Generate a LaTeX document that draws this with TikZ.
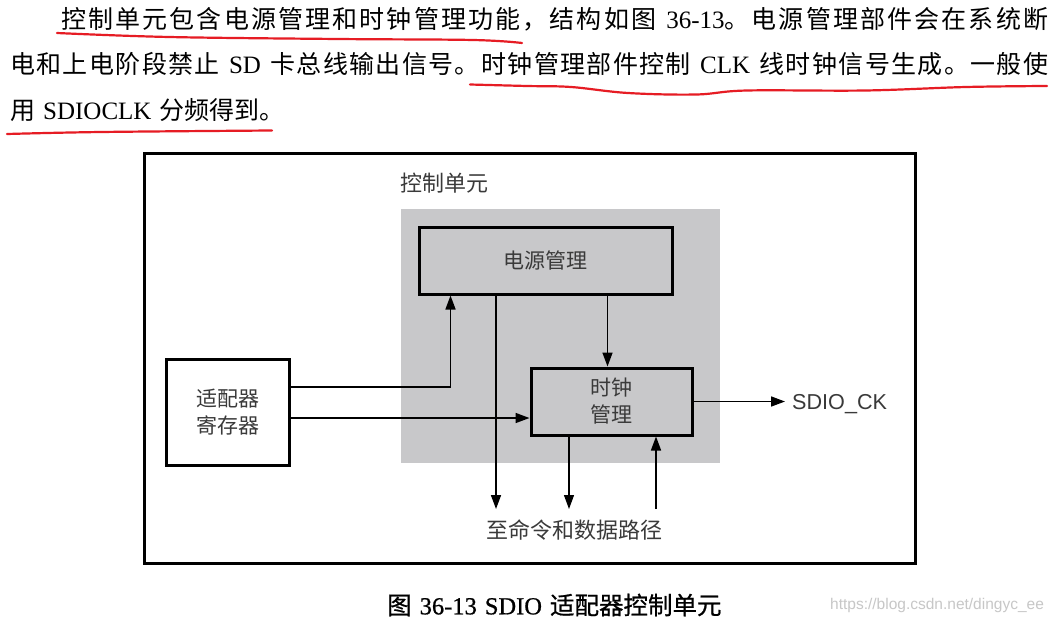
\documentclass[tikz,border=0pt]{standalone}
\usepackage{fontspec}
\setmainfont{Liberation Serif}
\newfontfamily\cjk{Noto Sans CJK SC}
\newfontfamily\cjkcap[FakeBold=0.8]{Noto Sans CJK SC}
\newfontfamily\latcap[FakeBold=0.8]{Liberation Serif}
\newfontfamily\arial{Liberation Sans}
\usetikzlibrary{arrows.meta}
\newcommand\lat{\rmfamily}
\newcommand\gap{\hspace{8pt plus 1fil}}
\definecolor{cugray}{RGB}{200,200,202}
\definecolor{redu}{RGB}{230,28,36}
\definecolor{dtext}{RGB}{58,58,58}
% inter-character glue class for CJK characters (used only in the justified lines)
\newcount\cc
\cc="3000 \loop \XeTeXcharclass\cc=9 \ifnum\cc<"303F \advance\cc by 1 \repeat
\cc="4E00 \loop \XeTeXcharclass\cc=9 \ifnum\cc<"9FFF \advance\cc by 1 \repeat
\cc="FF00 \loop \XeTeXcharclass\cc=9 \ifnum\cc<"FFEF \advance\cc by 1 \repeat
\XeTeXinterchartoks 9 9 = {\hskip 0pt plus 1fil\relax}
\begin{document}
\begin{tikzpicture}[x=1pt,y=-1pt,
  para/.style={inner sep=0pt,text=black,font=\cjk\fontsize{25}{30}\selectfont},
  box/.style={draw=black,line width=3pt,inner sep=0pt,align=center,text=dtext,
    font=\cjk\fontsize{21}{27}\selectfont},
  lbl/.style={inner sep=0pt,text=dtext,font=\cjk\fontsize{22}{26}\selectfont},
  arr/.style={line width=1.6pt,-{Triangle[length=14pt,width=10pt]}},
  arrthin/.style={line width=1.1pt,-{Triangle[length=14pt,width=10pt]}},
  redline/.style={draw=redu,line width=2.2pt,line cap=round}]
\useasboundingbox (0,0) rectangle (1057,621);
\fill[white] (0,0) rectangle (1057,621);

% ---- paragraph ----
\node[para,anchor=base west] (p1) at (61,28) {\makebox[987pt][s]{\XeTeXinterchartokenstate=1 控制单元包含电源管理和时钟管理功能，结构如图\gap{\lat 36-13}。电源管理部件会在系统断}};
\node[para,anchor=base west] (p2) at (10,73) {\makebox[1038pt][s]{\XeTeXinterchartokenstate=1 电和上电阶段禁止\gap{\lat SD}\gap 卡总线输出信号。时钟管理部件控制\gap{\lat CLK}\gap 线时钟信号生成。一般使}};
\node[para,anchor=base west] (p3) at (10,119) {用\hspace{8pt}{\lat SDIOCLK}\hspace{8pt}分频得到。};

% ---- red hand-drawn underlines ----
\draw[redline] plot[smooth,tension=0.6] coordinates {(57,33) (169,37) (338,39) (473,40) (522,43)};
\draw[redline] plot[smooth,tension=0.6] coordinates {(470,84.5) (527,86) (571,87) (628,93) (696,94.5) (747,90.5) (865,90.5) (966,87) (1047,86)};
\draw[redline] plot[smooth,tension=0.6] coordinates {(7,134) (101,132) (272,130.5)};

% ---- figure ----
\node[draw=black,line width=3pt,minimum width=771pt,minimum height=410pt,inner sep=0pt] (frame) at (529.5,358) {};
\node[fill=cugray,minimum width=319pt,minimum height=254pt,inner sep=0pt] (cu) at (560.5,336) {};
\node[lbl] (cut) at (444,183) {控制单元};

\node[box,fill=cugray,minimum width=253pt,minimum height=67pt] (pm) at (545.5,260.5) {电源管理};
\node[box,fill=cugray,minimum width=161pt,minimum height=67pt] (ck) at (611.5,401.5) {时钟\\管理};
\node[box,fill=white,minimum width=123pt,minimum height=106pt] (ad) at (227.5,412) {适配器\\寄存器};

\node[inner xsep=7pt,inner ysep=0pt,anchor=base west,text=dtext,font=\arial\fontsize{21.6}{26}\selectfont] (sd) at (785,409) {SDIO\_CK};
\node[lbl] (path) at (574,530) {至命令和数据路径};

\coordinate (b1) at (496,509);
\coordinate (b2) at (569,509);
\coordinate (b3) at (656,509);

\draw[arr] ([yshift=25pt]ad.east) -| ([xshift=-95pt]pm.south);
\draw[arr] ([yshift=-6pt]ad.east) -- ([yshift=-6pt]ad.east -| ck.west);
\draw[arr] (pm.south -| b1) -- (b1);
\draw[arr] ([xshift=62pt]pm.south) -- ([xshift=62pt]pm.south |- ck.north);
\draw[arrthin] (ck.south -| b2) -- (b2);
\draw[arr] (b3) -- (b3 |- ck.south);
\draw[arr] (ck.east) -- (ck.east -| sd.west);

% ---- caption and watermark ----
\node[inner sep=0pt,anchor=west,text=black,font=\cjkcap\fontsize{24.5}{28}\selectfont] (cap) at (387,605) {图\hspace{8pt}{\latcap 36-13}\hspace{8pt}{\latcap SDIO}\hspace{8pt}适配器控制单元};
\node[inner sep=0pt,anchor=west,text=black!22,font=\arial\fontsize{15.5}{18}\selectfont] (wm) at (830,605) {https://blog.csdn.net/dingyc\_ee};
\end{tikzpicture}
\end{document}
